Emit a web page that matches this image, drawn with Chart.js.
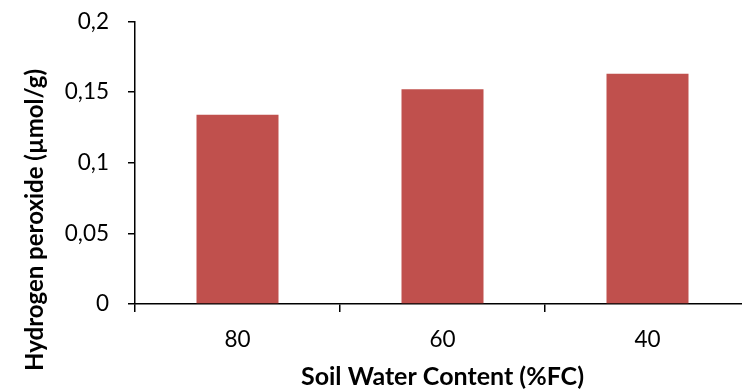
<!DOCTYPE html>
<html>
<head>
<meta charset="utf-8">
<script src="https://cdn.jsdelivr.net/npm/chart.js@4.4.0/dist/chart.umd.min.js"></script>
<style>
  html, body { margin: 0; padding: 0; background: #fff; overflow: hidden; }
  #wrap { width: 750px; height: 403px; margin-top: -11px; }
</style>
</head>
<body>
<div id="wrap"><canvas id="mycanvas"></canvas></div>
<script>
var categories = ['80', '60', '40'];
var values = [0.134, 0.152, 0.163];
var yTicks = [0, 0.05, 0.1, 0.15, 0.2];
var xTitle = 'Soil Water Content (%FC)';
var yTitle = 'Hydrogen peroxide (µmol/g)';

var fontName = 'Lato, "Open Sans", sans-serif';

// y title sits lower than the axis centre in the original, so draw it by hand
// (canvas is shifted up 11px)
var yTitlePlugin = {
    id: 'yTitle',
    afterDraw: function(chart) {
        var ctx = chart.ctx;
        ctx.save();
        ctx.translate(35, 231);
        ctx.rotate(-Math.PI / 2);
        ctx.font = 'bold 24px ' + fontName;
        ctx.fillStyle = '#000';
        ctx.textAlign = 'center';
        ctx.textBaseline = 'middle';
        ctx.fillText(yTitle, 0, 0);
        ctx.restore();
    }
};

var chartdata = {
    labels: categories,
    datasets: [
        {
            label: 'H2O2',
            backgroundColor: '#C0504D',
            borderWidth: 0,
            barPercentage: 0.4,
            categoryPercentage: 1,
            data: values
        }
    ]
};

var ctx = document.getElementById('mycanvas');

var barGraph = new Chart(ctx, {
    type: 'bar',
    data: chartdata,
    plugins: [yTitlePlugin],
    options: {
        responsive: true,
        maintainAspectRatio: false,
        animation: false,
        events: [],
        layout: { padding: 0 },
        plugins: {
            legend: { display: false },
            tooltip: { enabled: false }
        },
        scales: {
            x: {
                grid: {
                    offset: true,
                    drawOnChartArea: false,
                    drawTicks: true,
                    tickLength: 8,
                    color: '#000',
                    lineWidth: 1.5
                },
                border: { color: '#000', width: 1.5 },
                ticks: {
                    color: '#000',
                    font: { family: fontName, size: 22.5 },
                    padding: 14,
                    maxRotation: 0
                },
                title: {
                    display: true,
                    text: xTitle,
                    color: '#000',
                    font: { family: fontName, size: 25, weight: 'bold' },
                    padding: { top: 0, bottom: 0 }
                },
                afterFit: function(scale) { scale.height = 88; }
            },
            y: {
                min: 0,
                max: 0.2,
                afterBuildTicks: function(scale) {
                    scale.ticks = yTicks.map(function(v) { return { value: v }; });
                },
                grid: {
                    drawOnChartArea: false,
                    drawTicks: true,
                    tickLength: 7,
                    color: '#000',
                    lineWidth: 1.5
                },
                border: { color: '#000', width: 1.5 },
                ticks: {
                    color: '#000',
                    font: { family: fontName, size: 22.5 },
                    padding: 19,
                    callback: function(v) {
                        return String(Math.round(v * 100) / 100).replace('.', ',');
                    }
                },
                afterFit: function(scale) { scale.width = 135; }
            }
        }
    }
});
</script>
</body>
</html>
